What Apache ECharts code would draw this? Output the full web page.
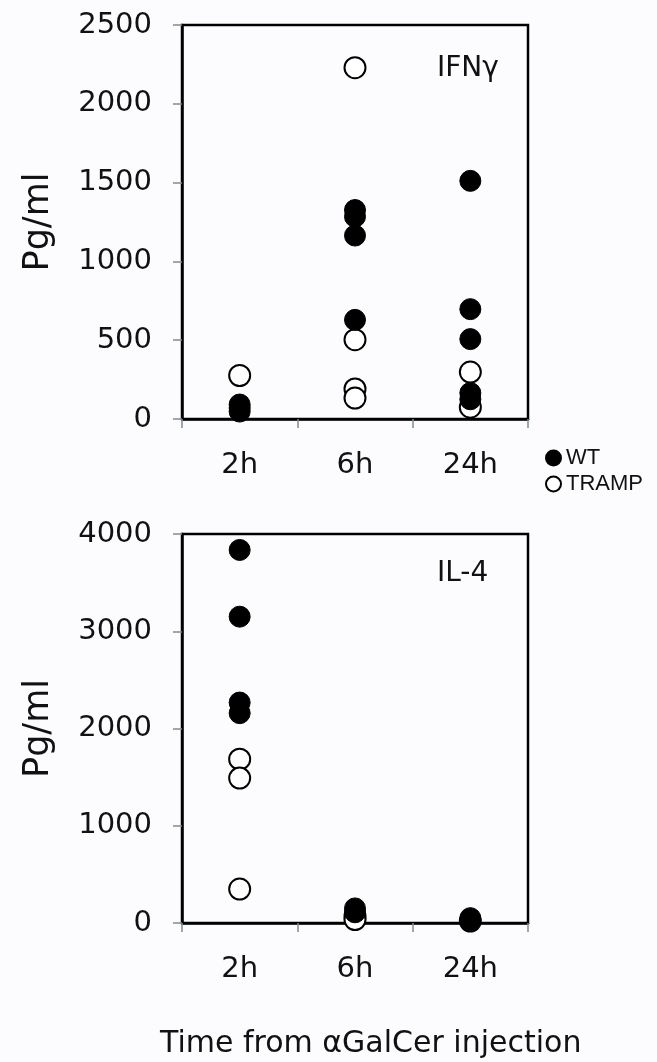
<!DOCTYPE html>
<html>
<head>
<meta charset="utf-8">
<script src="https://cdn.jsdelivr.net/npm/echarts@6/dist/echarts.min.js"></script>
<style>
html,body{margin:0;padding:0;background:#fcfcfe;}
#chart{width:657px;height:1062px;}
</style>
</head>
<body>
<div id="chart"></div>
<script>
// ---- data ----
const categories = ['2h', '6h', '24h'];
const ifnTicks = [0, 500, 1000, 1500, 2000, 2500];
const il4Ticks = [0, 1000, 2000, 3000, 4000];
// IFN-gamma (pg/ml), one list per time point
const ifnWT    = [[92, 70, 47], [1326, 1284, 1164, 629], [1511, 697, 507, 165, 125]];
const ifnTRAMP = [[276], [2229, 503, 191, 133], [298, 75]];
// IL-4 (pg/ml)
const il4WT    = [[3836, 3150, 2267, 2158], [150, 110], [50, 30]];
const il4TRAMP = [[1685, 1490, 349], [70, 35], [20]];
const panelLabels = ['IFNγ', 'IL-4'];
const seriesNames = ['WT', 'TRAMP'];
const xTitle = 'Time from αGalCer injection';
const yName = 'Pg/ml';

function toPoints(groups) {
  const pts = [];
  groups.forEach((vals, i) => vals.forEach(v => pts.push([categories[i], v])));
  return pts;
}

const FONT = 'DejaVu Sans';
const chart = echarts.init(document.getElementById('chart'), null, {renderer: 'canvas'});

function xAxis(gi) {
  return {
    type: 'category', gridIndex: gi, data: categories, boundaryGap: true,
    axisLine: {show: true, lineStyle: {color: '#000', width: 2.5}},
    axisTick: {show: true, inside: false, length: 9, alignWithLabel: false, interval: 0,
               lineStyle: {color: '#7d8a96', width: 1.5}},
    axisLabel: {fontFamily: FONT, fontSize: 29, color: '#111', margin: 32},
    splitLine: {show: false}
  };
}
function yAxis(gi, ticks) {
  return {
    type: 'value', gridIndex: gi, min: ticks[0], max: ticks[ticks.length - 1],
    interval: ticks[1] - ticks[0],
    name: yName, nameLocation: 'middle', nameRotate: 90, nameGap: 126,
    nameTextStyle: {fontFamily: FONT, fontSize: 35, color: '#111'},
    axisLine: {show: true, lineStyle: {color: '#000', width: 2.5}},
    axisTick: {show: true, inside: false, length: 9, lineStyle: {color: '#7d8a96', width: 1.5}},
    axisLabel: {fontFamily: FONT, fontSize: 29, color: '#111', margin: 30,
                formatter: v => String(v)},
    splitLine: {show: false}
  };
}

const filledStyle = {color: '#000', borderColor: '#000', borderWidth: 1, opacity: 1};
const openStyle = {color: '#fff', borderColor: '#000', borderWidth: 2, opacity: 1};

const option = {
  backgroundColor: '#fcfcfe',
  animation: false,
  title: [
    {text: panelLabels[0], left: 432, top: 50,
     textStyle: {fontFamily: FONT, fontSize: 28, fontWeight: 'normal', color: '#111'}},
    {text: panelLabels[1], left: 432, top: 555,
     textStyle: {fontFamily: FONT, fontSize: 28, fontWeight: 'normal', color: '#111'}},
    {text: xTitle, left: 155, top: 1024,
     textStyle: {fontFamily: FONT, fontSize: 30, fontWeight: 'normal', color: '#111'}}
  ],
  legend: {
    data: seriesNames, orient: 'vertical', left: 540, top: 442,
    itemWidth: 15, itemHeight: 15, itemGap: 4,
    textStyle: {fontFamily: 'Liberation Sans', fontSize: 22, color: '#111'}
  },
  grid: [
    {left: 182, width: 346, top: 25, height: 394, show: true, borderColor: '#000', borderWidth: 2.5, backgroundColor: 'transparent'},
    {left: 182, width: 346, top: 534, height: 389, show: true, borderColor: '#000', borderWidth: 2.5, backgroundColor: 'transparent'}
  ],
  xAxis: [xAxis(0), xAxis(1)],
  yAxis: [yAxis(0, ifnTicks), yAxis(1, il4Ticks)],
  series: [
    {name: 'TRAMP', type: 'scatter', xAxisIndex: 0, yAxisIndex: 0, symbol: 'circle', symbolSize: 21,
     itemStyle: openStyle, data: toPoints(ifnTRAMP), z: 2},
    {name: 'WT', type: 'scatter', xAxisIndex: 0, yAxisIndex: 0, symbol: 'circle', symbolSize: 21,
     itemStyle: filledStyle, data: toPoints(ifnWT), z: 3},
    {name: 'TRAMP', type: 'scatter', xAxisIndex: 1, yAxisIndex: 1, symbol: 'circle', symbolSize: 21,
     itemStyle: openStyle, data: toPoints(il4TRAMP), z: 2},
    {name: 'WT', type: 'scatter', xAxisIndex: 1, yAxisIndex: 1, symbol: 'circle', symbolSize: 21,
     itemStyle: filledStyle, data: toPoints(il4WT), z: 3}
  ]
};
chart.setOption(option);
</script>
</body>
</html>
